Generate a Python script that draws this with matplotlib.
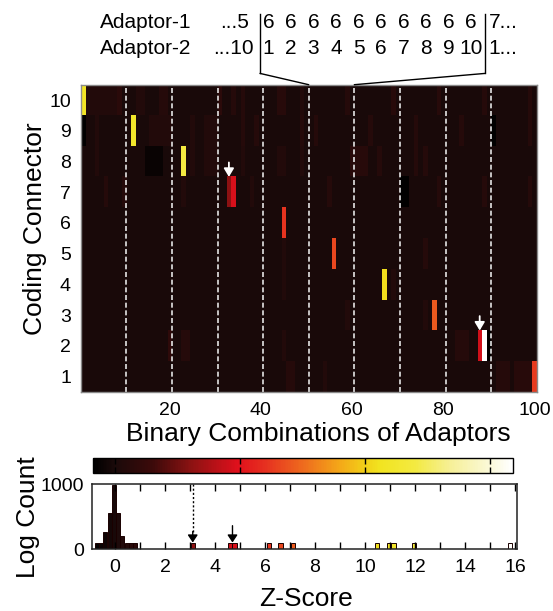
import numpy as np
import matplotlib
matplotlib.use('Agg')
import matplotlib.pyplot as plt
from matplotlib.colors import LinearSegmentedColormap, Normalize
from matplotlib.patches import ConnectionPatch
from matplotlib.lines import Line2D
import matplotlib.cm as cm

# ---------------- data ----------------
# colour scale (z-score -> colour)
cmap_z = [-0.89, 0.0, 1.5, 3.0, 4.9, 6.0, 7.5, 9.0, 10.0, 10.6, 12.0, 13.5, 15.0, 15.91]
cmap_colors = ['#000000', '#1b0a0a', '#3c0a0a', '#8a1212', '#e0101c', '#e63020',
               '#ee6a1e', '#f4a818', '#f2cf18', '#f2e420', '#f3ea40', '#f6f09a',
               '#fbf9d8', '#ffffff']

# heatmap: background z = 0, faint runs (row, first col, last col, z)
patch_rows = [10, 10, 10, 10, 10, 10, 10, 10, 10, 10, 10, 10, 10, 10,
              9, 9, 9, 9, 9, 9, 9, 9, 9, 9, 9, 9, 9, 9,
              8, 8, 8, 8, 8, 8, 8, 8, 8, 8, 8,
              7, 7, 7, 7, 7, 7, 7, 7, 7,
              5, 5, 4, 4, 3, 3,
              2, 2, 2, 2, 2,
              1, 1, 1, 1]
patch_c0 = [2, 9, 13, 18, 31, 34, 36, 44, 49, 59, 69, 79, 89, 99,
            1, 4, 16, 25, 28, 36, 39, 49, 52, 64, 74, 84, 91, 99,
            4, 15, 25, 28, 36, 44, 49, 60, 66, 74, 76,
            6, 10, 23, 38, 55, 71, 79, 89, 99,
            45, 76, 45, 69, 59, 76,
            20, 23, 45, 83, 90,
            46, 54, 92, 96]
patch_c1 = [8, 9, 14, 19, 31, 34, 36, 45, 49, 59, 69, 79, 89, 99,
            1, 4, 20, 25, 30, 36, 39, 49, 52, 64, 74, 84, 91, 99,
            4, 18, 25, 30, 36, 45, 49, 63, 66, 74, 76,
            6, 10, 23, 38, 55, 72, 79, 89, 99,
            45, 76, 45, 69, 59, 76,
            20, 24, 45, 85, 90,
            47, 54, 94, 99]
patch_z = [0.4, 0.7, 0.4, 0.5, 0.8, 0.5, 0.5, 0.6, 0.4, 0.5, 0.6, 0.6, 0.5, 0.5,
           -0.8, 0.4, 0.4, 0.4, 0.4, 0.5, 0.5, 0.5, 0.5, 0.5, 0.5, 0.5, -0.8, 0.5,
           0.4, -0.55, 0.4, 0.4, 0.4, 0.4, 0.4, 0.6, 0.5, 0.5, 0.5,
           0.5, 0.5, 0.4, 0.4, 0.5, -0.8, 0.5, 0.5, 0.5,
           0.3, 0.5, 0.3, 0.4, 0.4, 0.4,
           0.9, 0.5, 0.4, 0.5, -0.8,
           0.5, 0.4, 0.5, 0.6]

# strong hits (row, col, z)
hot_rows = [10, 9, 8, 7, 7, 6, 5, 4, 3, 2, 2, 1]
hot_cols = [1, 12, 23, 33, 34, 45, 56, 67, 78, 88, 89, 100]
hot_z = [10.9, 11.1, 12.0, 3.1, 4.75, 6.1, 6.6, 10.4, 7.1, 4.6, 15.9, 6.3]

# arrowed hits in heatmap (col, row)
arrow_cols = [33, 88]
arrow_rows = [7, 2]

heat_xticks = [20, 40, 60, 80, 100]
heat_yticks = list(range(1, 11))
group_bounds = [10.5, 20.5, 30.5, 40.5, 50.5, 60.5, 70.5, 80.5, 90.5]

# histogram of z-scores
hist_centers = [-0.725, -0.555, -0.385, -0.215, -0.045, 0.125, 0.295, 0.465, 0.635, 0.805,
                3.11, 4.62, 4.78, 6.16, 6.62, 7.12, 10.47, 10.98, 11.14, 11.97, 15.81]
hist_counts = [1, 1, 5, 47, 890, 47, 3, 1, 1, 1,
               1, 1, 1, 1, 1, 1, 1, 1, 1, 1, 1]
hist_width = 0.165
hist_arrows = [3.11, 4.70]

adaptor1_labels = ['6'] * 10
adaptor2_labels = [str(i) for i in range(1, 11)]

# ---------------- figure ----------------
plt.rcParams['font.family'] = ['Liberation Sans', 'DejaVu Sans']
W, H = 553, 611
fig = plt.figure(figsize=(W / 100, H / 100), dpi=100)


def fx(px):
    return px / W


def fy(py):
    return 1 - py / H


z_min, z_max = cmap_z[0], cmap_z[-1]
cmap = LinearSegmentedColormap.from_list(
    'zs', [((z - z_min) / (z_max - z_min), c) for z, c in zip(cmap_z, cmap_colors)])
norm = Normalize(z_min, z_max)

# ---- heatmap ----
ax = fig.add_axes([fx(80.7), fy(392), fx(456), 307.3 / H])
Z = np.zeros((10, 100))
for r, c0, c1, z in zip(patch_rows, patch_c0, patch_c1, patch_z):
    Z[r - 1, c0 - 1:c1] = z
for r, c, z in zip(hot_rows, hot_cols, hot_z):
    Z[r - 1, c - 1] = z
ax.imshow(Z, cmap=cmap, norm=norm, origin='lower', extent=(0.5, 100.5, 0.5, 10.5),
          aspect='auto', interpolation='nearest')
for xb in group_bounds:
    ax.axvline(xb, color='#e4e4e4', lw=1.2, ls=(0, (3, 1.6)))
ax.set_xlim(0.5, 100.5)
ax.set_ylim(0.5, 10.5)
ax.set_xticks(heat_xticks)
ax.set_yticks(heat_yticks)
ax.tick_params(length=0, labelsize=14, pad=7)
for s in ax.spines.values():
    s.set_color('#8a8a8a')
    s.set_linewidth(1.0)
for c, r in zip(arrow_cols, arrow_rows):
    ax.annotate('', xy=(c, r + 0.5), xytext=(c, r + 0.97), xycoords='data',
                arrowprops=dict(arrowstyle='-|>,head_length=0.5,head_width=0.3',
                                color='white', lw=1.3, shrinkA=0, shrinkB=0))
ax.set_ylabel('Coding Connector', fontsize=19)
ax.yaxis.set_label_coords(-0.073, 0.533)
ax.set_xlabel('Binary Combinations of Adaptors', fontsize=19)
ax.xaxis.label.set_verticalalignment('center')
ax.xaxis.set_label_coords(0.52, -0.137)

# ---- colorbar ----
cax = fig.add_axes([fx(92.7), fy(473), fx(420), 15 / H])
sm = cm.ScalarMappable(norm=norm, cmap=cmap)
cb = fig.colorbar(sm, cax=cax, orientation='horizontal')
cb.set_ticks([0, 5, 10, 15])
cb.set_ticklabels([''] * 4)
cax.tick_params(direction='in', top=True, bottom=True, length=4.5, width=1, color='k')
cb.outline.set_linewidth(1.0)

# ---- histogram ----
hx = fig.add_axes([fx(92), fy(549), fx(424.7), 64.7 / H])
hx.set_yscale('function', functions=(lambda c: np.log10(np.asarray(c) + 1.0),
                                      lambda y: 10 ** np.asarray(y) - 1.0))
centers = np.array(hist_centers)
hx.bar(centers, hist_counts, width=hist_width, color=cmap(norm(centers)),
       edgecolor='#1a0000', linewidth=0.7)
hx.set_xlim(-0.92, 16.07)
hx.set_ylim(0, 1000)
hx.set_xticks(range(0, 17, 2))
hx.set_xticks(range(1, 17, 2), minor=True)
hx.set_yticks([0, 1000])
hx.set_yticklabels(['0', '1000'])
hx.tick_params(axis='x', which='both', direction='in', top=True, length=5, width=1,
               labelsize=14, pad=7)
hx.tick_params(axis='y', length=0, labelsize=14, pad=6)
for s in hx.spines.values():
    s.set_linewidth(1.1)
    s.set_color('#222222')
tr = hx.get_xaxis_transform()
hx.plot([hist_arrows[0], hist_arrows[0]], [1.0, 0.25], transform=tr, color='k',
        lw=1.0, ls=(0, (1.5, 1.5)))
hx.annotate('', xy=(hist_arrows[0], 0.1), xytext=(hist_arrows[0], 0.27), xycoords=tr,
            arrowprops=dict(arrowstyle='-|>,head_length=0.45,head_width=0.3', color='k',
                            lw=1.0, shrinkA=0, shrinkB=0))
hx.annotate('', xy=(hist_arrows[1], 0.1), xytext=(hist_arrows[1], 0.36), xycoords=tr,
            arrowprops=dict(arrowstyle='-|>,head_length=0.45,head_width=0.3', color='k',
                            lw=1.0, shrinkA=0, shrinkB=0))
hx.set_ylabel('Log Count', fontsize=19)
hx.yaxis.set_label_coords(-0.122, 0.5)
hx.set_xlabel('Z-Score', fontsize=19)
hx.xaxis.label.set_verticalalignment('center')
hx.xaxis.set_label_coords(0.504, -0.77)

# ---- adaptor annotation ----
fs = 15
fig.text(fx(100), fy(23), 'Adaptor-1', fontsize=fs, va='center', ha='left')
fig.text(fx(100), fy(49), 'Adaptor-2', fontsize=fs, va='center', ha='left')
fig.text(fx(249), fy(23), '...5', fontsize=fs, va='center', ha='right')
fig.text(fx(254), fy(49), '...10', fontsize=fs, va='center', ha='right')
fig.text(fx(488.5), fy(23), '7...', fontsize=fs, va='center', ha='left')
fig.text(fx(488.5), fy(49), '1...', fontsize=fs, va='center', ha='left')
xs = np.linspace(268.5, 471.0, 10)
for x, a, b in zip(xs, adaptor1_labels, adaptor2_labels):
    fig.text(fx(x), fy(23), a, fontsize=fs, va='center', ha='center')
    fig.text(fx(x), fy(49), b, fontsize=fs, va='center', ha='center')

for xpix, xdata in [(260, 50.5), (485.2, 60.5)]:
    fig.add_artist(Line2D([fx(xpix), fx(xpix)], [fy(14), fy(73.4)],
                          transform=fig.transFigure, color='k', lw=1.0))
    con = ConnectionPatch(xyA=(fx(xpix), fy(73.4)), coordsA='figure fraction',
                          xyB=(xdata, 10.5), coordsB=ax.transData, color='k', lw=1.0)
    fig.add_artist(con)

fig.savefig('out.png', dpi=100)
